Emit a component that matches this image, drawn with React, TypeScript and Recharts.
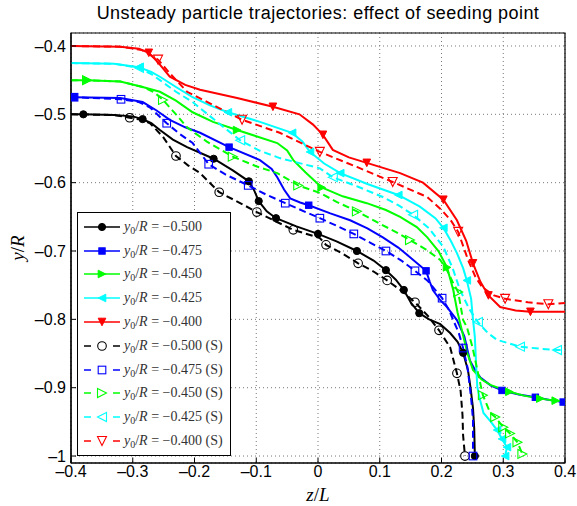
import React from 'react';
import { LineChart, Line, XAxis, YAxis, CartesianGrid, Legend, ReferenceArea } from 'recharts';

// [z/L, y/R, marker?]
type Pt = [number, number, number];

const X_TICKS = [-0.4, -0.3, -0.2, -0.1, 0, 0.1, 0.2, 0.3, 0.4];
const Y_TICKS = [-1, -0.9, -0.8, -0.7, -0.6, -0.5, -0.4];
const X_DOMAIN = [-0.4, 0.4];
const Y_DOMAIN = [-1.0102, -0.381];

const black: Pt[] = [
  [-0.4, -0.5, 0], [-0.38, -0.5, 1], [-0.33, -0.501, 0], [-0.3, -0.503, 0], [-0.284, -0.507, 1],
  [-0.27, -0.513, 0], [-0.256, -0.523, 0], [-0.235, -0.537, 0], [-0.212, -0.548, 0], [-0.169, -0.565, 1],
  [-0.138, -0.582, 0], [-0.112, -0.598, 1], [-0.103, -0.612, 0], [-0.096, -0.627, 1], [-0.083, -0.642, 0],
  [-0.068, -0.652, 1], [-0.035, -0.664, 0], [0, -0.675, 1], [0.03, -0.686, 0], [0.063, -0.7, 1],
  [0.09, -0.714, 0], [0.11, -0.728, 1], [0.126, -0.742, 0], [0.139, -0.757, 1], [0.15, -0.775, 0],
  [0.164, -0.791, 1], [0.18, -0.8, 0], [0.198, -0.807, 0], [0.214, -0.82, 0], [0.226, -0.833, 0],
  [0.235, -0.849, 1], [0.243, -0.875, 0], [0.247, -0.9, 0], [0.251, -0.93, 0], [0.253, -0.96, 0],
  [0.254, -1.0, 1],
];

const blue: Pt[] = [
  [-0.4, -0.475, 0], [-0.395, -0.475, 1], [-0.32, -0.476, 0], [-0.284, -0.482, 0], [-0.262, -0.494, 0],
  [-0.24, -0.508, 0], [-0.215, -0.519, 0], [-0.191, -0.527, 0], [-0.144, -0.548, 1], [-0.094, -0.567, 0],
  [-0.075, -0.58, 0], [-0.066, -0.592, 0], [-0.055, -0.61, 0], [-0.045, -0.623, 0], [-0.029, -0.629, 0],
  [-0.015, -0.633, 1], [0.02, -0.645, 0], [0.052, -0.655, 0], [0.08, -0.667, 0], [0.105, -0.68, 0],
  [0.13, -0.695, 0], [0.149, -0.709, 0], [0.175, -0.729, 1], [0.181, -0.745, 0], [0.186, -0.757, 0],
  [0.198, -0.772, 0], [0.209, -0.782, 0], [0.225, -0.801, 0], [0.237, -0.825, 0], [0.246, -0.86, 0],
  [0.256, -0.877, 0], [0.263, -0.885, 0], [0.28, -0.897, 0], [0.298, -0.904, 1], [0.325, -0.91, 0],
  [0.352, -0.914, 1], [0.375, -0.918, 0], [0.397, -0.921, 1],
];

const green: Pt[] = [
  [-0.4, -0.45, 0], [-0.374, -0.45, 1], [-0.32, -0.452, 0], [-0.284, -0.46, 0], [-0.256, -0.467, 0],
  [-0.23, -0.48, 0], [-0.203, -0.497, 0], [-0.17, -0.511, 0], [-0.131, -0.523, 1], [-0.1, -0.532, 0],
  [-0.066, -0.542, 0], [-0.05, -0.553, 0], [-0.04, -0.567, 0], [-0.02, -0.585, 0], [0.006, -0.607, 1],
  [0.04, -0.62, 0], [0.079, -0.63, 0], [0.11, -0.64, 0], [0.133, -0.65, 0], [0.16, -0.665, 0],
  [0.177, -0.68, 0], [0.195, -0.7, 0], [0.209, -0.724, 1], [0.219, -0.757, 0], [0.226, -0.79, 0],
  [0.233, -0.816, 0], [0.242, -0.85, 0], [0.251, -0.874, 0], [0.265, -0.888, 0], [0.279, -0.896, 0],
  [0.31, -0.906, 1], [0.335, -0.912, 0], [0.36, -0.916, 1], [0.385, -0.919, 1], [0.4, -0.92, 0],
];

const cyan: Pt[] = [
  [-0.4, -0.425, 0], [-0.33, -0.426, 0], [-0.29, -0.431, 1], [-0.27, -0.438, 0], [-0.256, -0.445, 0],
  [-0.23, -0.46, 0], [-0.203, -0.475, 0], [-0.175, -0.487, 0], [-0.146, -0.497, 1], [-0.094, -0.511, 0],
  [-0.042, -0.527, 1], [-0.025, -0.54, 0], [-0.013, -0.555, 1], [0.01, -0.572, 0], [0.036, -0.586, 1],
  [0.08, -0.602, 0], [0.13, -0.618, 1], [0.165, -0.635, 0], [0.19, -0.652, 0], [0.203, -0.666, 1],
  [0.215, -0.685, 0], [0.225, -0.703, 0], [0.235, -0.725, 0], [0.241, -0.743, 1], [0.248, -0.77, 0],
  [0.25, -0.791, 0], [0.254, -0.826, 0], [0.256, -0.865, 0], [0.258, -0.899, 0], [0.263, -0.92, 0],
  [0.268, -0.937, 0], [0.28, -0.95, 0], [0.29, -0.962, 1], [0.298, -0.975, 1], [0.306, -0.987, 1],
  [0.303, -1.0, 1],
];

const red: Pt[] = [
  [-0.4, -0.4, 0], [-0.32, -0.401, 0], [-0.29, -0.404, 0], [-0.274, -0.41, 1], [-0.258, -0.425, 0],
  [-0.24, -0.445, 0], [-0.215, -0.457, 0], [-0.191, -0.464, 0], [-0.131, -0.476, 0], [-0.073, -0.489, 1],
  [-0.03, -0.5, 0], [-0.008, -0.515, 0], [0.008, -0.53, 1], [0.024, -0.552, 0], [0.05, -0.563, 0],
  [0.079, -0.571, 1], [0.133, -0.586, 0], [0.17, -0.6, 0], [0.203, -0.625, 1], [0.225, -0.655, 0],
  [0.24, -0.685, 0], [0.251, -0.718, 1], [0.263, -0.745, 0], [0.276, -0.765, 1], [0.295, -0.782, 0],
  [0.32, -0.787, 0], [0.344, -0.789, 1], [0.4, -0.789, 0],
];

const blackS: Pt[] = [
  [-0.4, -0.5, 0], [-0.33, -0.501, 0], [-0.305, -0.505, 1], [-0.285, -0.508, 0], [-0.272, -0.513, 0],
  [-0.251, -0.533, 0], [-0.23, -0.561, 1], [-0.21, -0.575, 0], [-0.191, -0.586, 0], [-0.16, -0.614, 1],
  [-0.13, -0.628, 0], [-0.099, -0.643, 1], [-0.07, -0.656, 0], [-0.04, -0.669, 1], [0.003, -0.681, 0],
  [0.013, -0.691, 1], [0.04, -0.704, 0], [0.065, -0.718, 1], [0.09, -0.73, 0], [0.112, -0.743, 1],
  [0.135, -0.758, 0], [0.157, -0.775, 1], [0.178, -0.795, 0], [0.196, -0.816, 1], [0.214, -0.841, 0],
  [0.225, -0.879, 1], [0.231, -0.905, 0], [0.234, -0.94, 0], [0.235, -0.97, 0], [0.238, -1.0, 1],
];

const blueS: Pt[] = [
  [-0.4, -0.475, 0], [-0.395, -0.475, 1], [-0.319, -0.478, 1], [-0.29, -0.482, 0], [-0.272, -0.49, 0],
  [-0.258, -0.502, 0], [-0.245, -0.513, 1], [-0.225, -0.528, 0], [-0.203, -0.542, 0], [-0.177, -0.573, 1],
  [-0.15, -0.588, 0], [-0.113, -0.604, 1], [-0.085, -0.617, 0], [-0.053, -0.63, 1], [0.003, -0.652, 1],
  [0.03, -0.663, 0], [0.058, -0.675, 1], [0.085, -0.688, 0], [0.11, -0.7, 1], [0.135, -0.714, 0],
  [0.157, -0.729, 1], [0.177, -0.743, 0], [0.201, -0.769, 1], [0.212, -0.786, 0], [0.219, -0.801, 0],
  [0.228, -0.82, 0], [0.235, -0.842, 1], [0.242, -0.87, 0], [0.246, -0.899, 0], [0.249, -0.925, 0],
  [0.251, -0.948, 0], [0.251, -0.975, 0], [0.251, -1.0, 1],
];

const greenS: Pt[] = [
  [-0.4, -0.45, 0], [-0.374, -0.45, 1], [-0.32, -0.452, 0], [-0.284, -0.46, 0], [-0.265, -0.468, 0],
  [-0.251, -0.479, 1], [-0.23, -0.5, 0], [-0.212, -0.519, 0], [-0.18, -0.54, 0], [-0.138, -0.562, 1],
  [-0.1, -0.576, 0], [-0.066, -0.586, 0], [-0.032, -0.604, 1], [0.003, -0.615, 0], [0.03, -0.628, 0],
  [0.063, -0.642, 1], [0.1, -0.66, 0], [0.13, -0.674, 0], [0.149, -0.684, 1], [0.175, -0.698, 0],
  [0.198, -0.713, 0], [0.21, -0.73, 0], [0.219, -0.747, 0], [0.227, -0.76, 1], [0.235, -0.801, 0],
  [0.241, -0.811, 0], [0.25, -0.84, 0], [0.258, -0.874, 0], [0.267, -0.911, 1], [0.279, -0.937, 0],
  [0.287, -0.943, 1], [0.3, -0.958, 1], [0.311, -0.967, 1], [0.323, -0.98, 1], [0.331, -0.997, 1],
];

const cyanS: Pt[] = [
  [-0.4, -0.425, 0], [-0.33, -0.426, 0], [-0.29, -0.432, 1], [-0.27, -0.441, 0], [-0.256, -0.45, 0],
  [-0.23, -0.467, 0], [-0.203, -0.482, 0], [-0.165, -0.51, 0], [-0.126, -0.538, 1], [-0.095, -0.553, 0],
  [-0.062, -0.564, 0], [0.003, -0.579, 0], [0.024, -0.592, 1], [0.065, -0.606, 0], [0.105, -0.621, 0],
  [0.13, -0.633, 0], [0.154, -0.647, 1], [0.18, -0.667, 0], [0.203, -0.694, 0], [0.218, -0.725, 0],
  [0.23, -0.757, 0], [0.245, -0.785, 0], [0.259, -0.804, 1], [0.275, -0.82, 0], [0.29, -0.83, 0],
  [0.327, -0.84, 1], [0.36, -0.843, 0], [0.387, -0.845, 1], [0.4, -0.845, 0],
];

const redS: Pt[] = [
  [-0.4, -0.4, 0], [-0.32, -0.401, 0], [-0.285, -0.406, 0], [-0.259, -0.42, 1], [-0.24, -0.44, 0],
  [-0.212, -0.467, 0], [-0.164, -0.489, 0], [-0.123, -0.508, 1], [-0.062, -0.527, 0], [0.003, -0.555, 1],
  [0.063, -0.577, 0], [0.121, -0.599, 1], [0.177, -0.621, 0], [0.2, -0.64, 0], [0.215, -0.655, 0],
  [0.227, -0.672, 1], [0.243, -0.713, 0], [0.255, -0.738, 0], [0.266, -0.753, 0], [0.285, -0.765, 0],
  [0.303, -0.77, 1], [0.34, -0.775, 0], [0.373, -0.778, 1], [0.4, -0.776, 0],
];

type Shape = 'circle' | 'square' | 'right' | 'left' | 'down';

interface Series {
  key: string;
  value: string;
  color: string;
  shape: Shape;
  dashed: boolean;
  pts: Pt[];
}

const SERIES: Series[] = [
  { key: 'black', value: '−0.500', color: '#000000', shape: 'circle', dashed: false, pts: black },
  { key: 'blue', value: '−0.475', color: '#0000ff', shape: 'square', dashed: false, pts: blue },
  { key: 'green', value: '−0.450', color: '#00ff00', shape: 'right', dashed: false, pts: green },
  { key: 'cyan', value: '−0.425', color: '#00ffff', shape: 'left', dashed: false, pts: cyan },
  { key: 'red', value: '−0.400', color: '#ff0000', shape: 'down', dashed: false, pts: red },
  { key: 'blackS', value: '−0.500', color: '#000000', shape: 'circle', dashed: true, pts: blackS },
  { key: 'blueS', value: '−0.475', color: '#0000ff', shape: 'square', dashed: true, pts: blueS },
  { key: 'greenS', value: '−0.450', color: '#00ff00', shape: 'right', dashed: true, pts: greenS },
  { key: 'cyanS', value: '−0.425', color: '#00ffff', shape: 'left', dashed: true, pts: cyanS },
  { key: 'redS', value: '−0.400', color: '#ff0000', shape: 'down', dashed: true, pts: redS },
];

const fmt = (v: number) => {
  if (Math.abs(v) < 1e-9) return '0';
  const a = Math.abs(v);
  const s = Math.abs(a - 1) < 1e-9 ? '1' : a.toFixed(1);
  return v < 0 ? '–' + s : s;
};

function Marker({ shape, x, y, color, open }: { shape: Shape; x: number; y: number; color: string; open: boolean }) {
  const fill = open ? 'none' : color;
  const sw = open ? 1.1 : 1;
  const s = open ? 4.5 : 3.8;
  switch (shape) {
    case 'circle':
      return <circle cx={x} cy={y} r={open ? 4.3 : 3.6} fill={fill} stroke={color} strokeWidth={sw} />;
    case 'square': {
      const h = open ? 3.8 : 3.2;
      return <rect x={x - h} y={y - h} width={h * 2} height={h * 2} fill={fill} stroke={color} strokeWidth={sw} />;
    }
    case 'right':
      return <polygon points={`${x - s},${y - s} ${x + s},${y} ${x - s},${y + s}`} fill={fill} stroke={color} strokeWidth={sw} />;
    case 'left':
      return <polygon points={`${x + s},${y - s} ${x - s},${y} ${x + s},${y + s}`} fill={fill} stroke={color} strokeWidth={sw} />;
    default:
      return <polygon points={`${x - s},${y - s} ${x + s},${y - s} ${x},${y + s}`} fill={fill} stroke={color} strokeWidth={sw} />;
  }
}

const makeDot = (s: Series) => (props: any) => {
  const { cx, cy, payload, index } = props;
  if (!payload || !payload.m || cx == null || cy == null) return <g key={`${s.key}-${index}`} />;
  return (
    <g key={`${s.key}-${index}`}>
      <Marker shape={s.shape} x={cx} y={cy} color={s.color} open={s.dashed} />
    </g>
  );
};

const LegendBox = () => (
  <div
    style={{
      width: 154,
      height: 244,
      boxSizing: 'border-box',
      border: '1.5px solid #000',
      background: '#fff',
      paddingTop: 2,
    }}
  >
    {SERIES.map((s) => (
      <div key={s.key} style={{ display: 'flex', alignItems: 'center', height: 23.8 }}>
        <svg width={45} height={20} style={{ flex: 'none' }}>
          {s.dashed ? (
            <>
              <line x1={6} y1={10} x2={13} y2={10} stroke={s.color} strokeWidth={1.5} />
              <line x1={35} y1={10} x2={42} y2={10} stroke={s.color} strokeWidth={1.5} />
            </>
          ) : (
            <line x1={6} y1={10} x2={42} y2={10} stroke={s.color} strokeWidth={1.5} />
          )}
          <Marker shape={s.shape} x={24} y={10} color={s.color} open={s.dashed} />
        </svg>
        <span
          style={{
            fontFamily: '"Liberation Serif", "DejaVu Serif", serif',
            fontSize: 14,
            color: '#333',
            whiteSpace: 'nowrap',
            marginLeft: 1,
          }}
        >
          <i>y</i>
          <span style={{ fontSize: 10, position: 'relative', top: 3 }}>0</span>/<i>R</i>
          {' = '}
          {s.value}
          {s.dashed ? ' (S)' : ''}
        </span>
      </div>
    ))}
  </div>
);

const YLabel = (props: any) => {
  const vb = props.viewBox || { x: 0, y: 33, width: 71, height: 430 };
  const cx = 17;
  const cy = vb.y + vb.height / 2;
  return (
    <text
      x={cx}
      y={cy}
      transform={`rotate(-90 ${cx} ${cy})`}
      textAnchor="middle"
      dominantBaseline="central"
      fontFamily='"Liberation Serif", "DejaVu Serif", serif'
      fontSize={19}
      fill="#000"
    >
      <tspan fontStyle="italic">y</tspan>
      <tspan>/</tspan>
      <tspan fontStyle="italic">R</tspan>
    </text>
  );
};

const XLabel = (props: any) => {
  const vb = props.viewBox || { x: 71, y: 463, width: 494, height: 43 };
  const cx = vb.x + vb.width / 2;
  return (
    <text
      x={cx}
      y={501}
      textAnchor="middle"
      fontFamily='"Liberation Serif", "DejaVu Serif", serif'
      fontSize={19}
      fill="#000"
    >
      <tspan fontStyle="italic">z</tspan>
      <tspan>/</tspan>
      <tspan fontStyle="italic">L</tspan>
    </text>
  );
};

const tickStyle = { fontFamily: '"Liberation Sans", Arial, sans-serif', fontSize: 16, fill: '#000' };

export default function App() {
  return (
    <div style={{ position: 'absolute', left: 0, top: 0, width: 577, height: 506, overflow: 'hidden', background: '#fff' }}>
      <div
        style={{
          position: 'absolute',
          left: 71,
          width: 494,
          top: 3,
          textAlign: 'center',
          fontFamily: '"Liberation Sans", Arial, sans-serif',
          fontSize: 18,
          lineHeight: '21px',
          letterSpacing: 0.45,
          color: '#000',
          whiteSpace: 'nowrap',
          zIndex: 2,
        }}
      >
        Unsteady particle trajectories: effect of seeding point
      </div>
      <LineChart width={577} height={506} margin={{ top: 33, right: 12, bottom: 0, left: 0 }}>
        <CartesianGrid stroke="#777" strokeDasharray="1 3" strokeWidth={1} />
        <XAxis
          dataKey="z"
          type="number"
          domain={X_DOMAIN}
          ticks={X_TICKS}
          allowDataOverflow
          height={43}
          tickSize={-5}
          tickMargin={8}
          tickFormatter={fmt}
          tick={tickStyle}
          stroke="#000"
          axisLine={{ stroke: '#000', strokeWidth: 1.2 }}
          tickLine={{ stroke: '#000' }}
          label={<XLabel />}
        />
        <XAxis
          xAxisId="top"
          orientation="top"
          dataKey="z"
          type="number"
          domain={X_DOMAIN}
          ticks={X_TICKS}
          allowDataOverflow
          height={0}
          tickSize={-5}
          tick={false}
          axisLine={false}
          tickLine={{ stroke: '#000' }}
        />
        <YAxis
          dataKey="y"
          type="number"
          domain={Y_DOMAIN}
          ticks={Y_TICKS}
          allowDataOverflow
          width={71}
          tickSize={-5}
          tickMargin={10}
          tickFormatter={fmt}
          tick={tickStyle}
          axisLine={{ stroke: '#000', strokeWidth: 1.2 }}
          tickLine={{ stroke: '#000' }}
          label={<YLabel />}
        />
        <YAxis
          yAxisId="right"
          orientation="right"
          dataKey="y"
          type="number"
          domain={Y_DOMAIN}
          ticks={Y_TICKS}
          allowDataOverflow
          width={0}
          tickSize={-5}
          tick={false}
          axisLine={false}
          tickLine={{ stroke: '#000' }}
        />
        {SERIES.map((s) => (
          <Line
            key={s.key}
            data={s.pts.map(([z, y, m]) => ({ z, y, m }))}
            dataKey="y"
            type="linear"
            stroke={s.color}
            strokeWidth={2}
            strokeDasharray={s.dashed ? '7 4' : undefined}
            dot={makeDot(s)}
            activeDot={false}
            isAnimationActive={false}
            legendType="none"
          />
        ))}
        <ReferenceArea
          x1={X_DOMAIN[0]}
          x2={X_DOMAIN[1]}
          y1={Y_DOMAIN[0]}
          y2={Y_DOMAIN[1]}
          fill="none"
          fillOpacity={0}
          stroke="#000"
          strokeWidth={1.2}
        />
        <Legend
          layout="horizontal"
          align="center"
          verticalAlign="middle"
          content={() => <LegendBox />}
          wrapperStyle={{ position: 'absolute', left: 77, top: 212, width: 154, height: 244 }}
        />
      </LineChart>
    </div>
  );
}
